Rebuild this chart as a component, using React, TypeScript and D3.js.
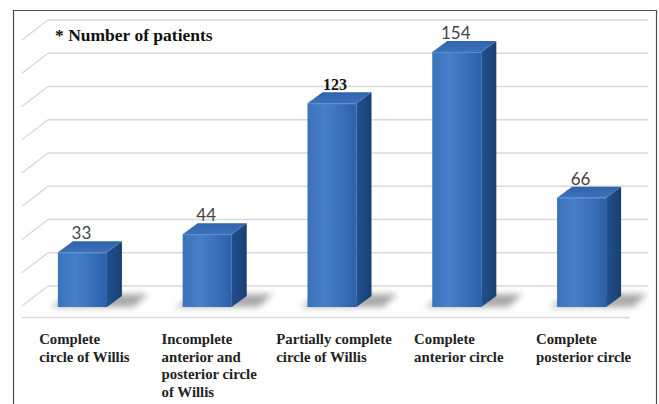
import * as d3 from 'd3'
import { useEffect, useRef } from 'react'

const categories = [
  'Complete circle of Willis',
  'Incomplete anterior and posterior circle of Willis',
  'Partially complete circle of Willis',
  'Complete anterior circle',
  'Complete posterior circle',
]
const categoryLines = [
  ['Complete', 'circle of Willis'],
  ['Incomplete', 'anterior and', 'posterior circle', 'of Willis'],
  ['Partially complete', 'circle of Willis'],
  ['Complete', 'anterior circle'],
  ['Complete', 'posterior circle'],
]
const patients = [33, 44, 123, 154, 66]
const gridValues = [0, 20, 40, 60, 80, 100, 120, 140, 160]
const title = '* Number of patients'
// the 123 label is set in bold serif in the original
const boldValueIndex = 2

const W = 659
const H = 404

export default function App() {
  const svgRef = useRef<SVGSVGElement | null>(null)

  useEffect(() => {
    if (!svgRef.current) return
    const svg = d3.select(svgRef.current)
    svg.selectAll('*').remove()

    const defs = svg.append('defs')
    const front = defs.append('linearGradient').attr('id', 'front').attr('x1', 0).attr('x2', 1).attr('y1', 0).attr('y2', 0)
    front.append('stop').attr('offset', '0%').attr('stop-color', '#3a72bc')
    front.append('stop').attr('offset', '35%').attr('stop-color', '#4680c8')
    front.append('stop').attr('offset', '100%').attr('stop-color', '#2b61ab')
    const side = defs.append('linearGradient').attr('id', 'side').attr('x1', 0).attr('x2', 1).attr('y1', 0).attr('y2', 0)
    side.append('stop').attr('offset', '0%').attr('stop-color', '#21508f')
    side.append('stop').attr('offset', '100%').attr('stop-color', '#193f72')
    const top = defs.append('linearGradient').attr('id', 'top').attr('x1', 0).attr('x2', 0).attr('y1', 1).attr('y2', 0)
    top.append('stop').attr('offset', '0%').attr('stop-color', '#3d72bb')
    top.append('stop').attr('offset', '100%').attr('stop-color', '#2f63ab')
    defs.append('filter').attr('id', 'blur').attr('x', '-50%').attr('y', '-50%').attr('width', '200%').attr('height', '200%')
      .append('feGaussianBlur').attr('stdDeviation', 3)

    // back wall scale and bar (front plane) scale
    const yBack = d3.scaleLinear().domain([0, 160]).range([286, 20])
    const yFront = d3.scaleLinear().domain([0, 160]).range([307, 42])
    const x = d3.scaleBand().domain(categories).range([20, 644]).paddingInner(0.607).paddingOuter(0.3035)
    const wallLeft = 48
    const wallRight = 648
    const sideDx = 26
    const sideDy = 20
    const depthX = 15
    const depthY = 11

    // frame
    svg.append('path')
      .attr('d', `M13.5,${H} V10.5 H656.5 V${H}`)
      .attr('fill', 'none').attr('stroke', '#4d4d4d').attr('stroke-width', 1.2)

    // gridlines
    const grid = svg.append('g').attr('stroke', '#d9d9d9').attr('stroke-width', 1.5).attr('fill', 'none')
    gridValues.forEach((v) => {
      const yy = yBack(v)
      grid.append('line').attr('x1', wallLeft).attr('x2', wallRight).attr('y1', yy).attr('y2', yy)
      grid.append('line').attr('x1', wallLeft - sideDx).attr('x2', wallLeft).attr('y1', yy + sideDy).attr('y2', yy)
    })
    grid.append('line').attr('x1', wallLeft - sideDx).attr('x2', 630).attr('y1', 317.5).attr('y2', 317.5)

    // bars
    const bars = svg.append('g')
    const bw = x.bandwidth()
    const yb = yFront(0)
    categories.forEach((c, i) => {
      const x0 = x(c) || 0
      const x1 = x0 + bw
      const yt = yFront(patients[i])
      const g = bars.append('g')
      g.append('path')
        .attr('d', `M${x0 - 8},${yb} L${x1 + depthX + 12},${yb} L${x1 + depthX + 26},${yb - depthY - 2} L${x0 + depthX},${yb - depthY - 2} Z`)
        .attr('fill', '#8c8c8c').attr('opacity', 0.75).attr('filter', 'url(#blur)')
      g.append('rect').attr('x', x0).attr('y', yt).attr('width', bw).attr('height', yb - yt).attr('fill', 'url(#front)')
      g.append('path')
        .attr('d', `M${x1},${yt} L${x1 + depthX},${yt - depthY} L${x1 + depthX},${yb - depthY} L${x1},${yb} Z`)
        .attr('fill', 'url(#side)')
      g.append('path')
        .attr('d', `M${x0},${yt} L${x0 + depthX},${yt - depthY} L${x1 + depthX},${yt - depthY} L${x1},${yt} Z`)
        .attr('fill', 'url(#top)')
      g.append('line').attr('x1', x0 + 1).attr('x2', x1).attr('y1', yt + 0.5).attr('y2', yt + 0.5)
        .attr('stroke', '#5a8fd3').attr('stroke-width', 1)

      const bold = i === boldValueIndex
      g.append('text')
        .attr('x', x0 + bw / 2 + (bold ? 3 : -1))
        .attr('y', yt - depthY - 2)
        .attr('text-anchor', 'middle')
        .attr('font-family', bold ? '"Liberation Serif", serif' : 'Lato, "DejaVu Sans", sans-serif')
        .attr('font-weight', bold ? 'bold' : 'normal')
        .attr('font-size', bold ? 16 : 17)
        .attr('fill', bold ? '#111' : '#444')
        .text(patients[i])
    })

    // category labels, block centred under bar, left aligned
    const labels = svg.append('g')
      .attr('font-family', '"Liberation Serif", "Times New Roman", serif')
      .attr('font-weight', 'bold').attr('font-size', 14.8).attr('fill', '#222')
    categories.forEach((c, i) => {
      const t = labels.append('text').attr('y', 344)
      categoryLines[i].forEach((line, j) => {
        t.append('tspan').attr('dy', j === 0 ? 0 : 17.5).text(line)
      })
      const tspans = t.selectAll<SVGTSpanElement, unknown>('tspan').nodes()
      const maxW = d3.max(tspans, (n) => n.getComputedTextLength()) || 0
      const cx = (x(c) || 0) + bw / 2
      const left = cx - maxW / 2 + 2
      t.selectAll('tspan').attr('x', left)
    })

    // title
    svg.append('text')
      .attr('x', 55).attr('y', 41)
      .attr('font-family', '"Liberation Serif", "Times New Roman", serif')
      .attr('font-weight', 'bold').attr('font-size', 17.5).attr('fill', '#111')
      .text(title)
  }, [])

  return (
    <svg
      ref={svgRef}
      width={W}
      height={H}
      style={{ position: 'absolute', left: 0, top: 0, background: '#fff' }}
    />
  )
}
